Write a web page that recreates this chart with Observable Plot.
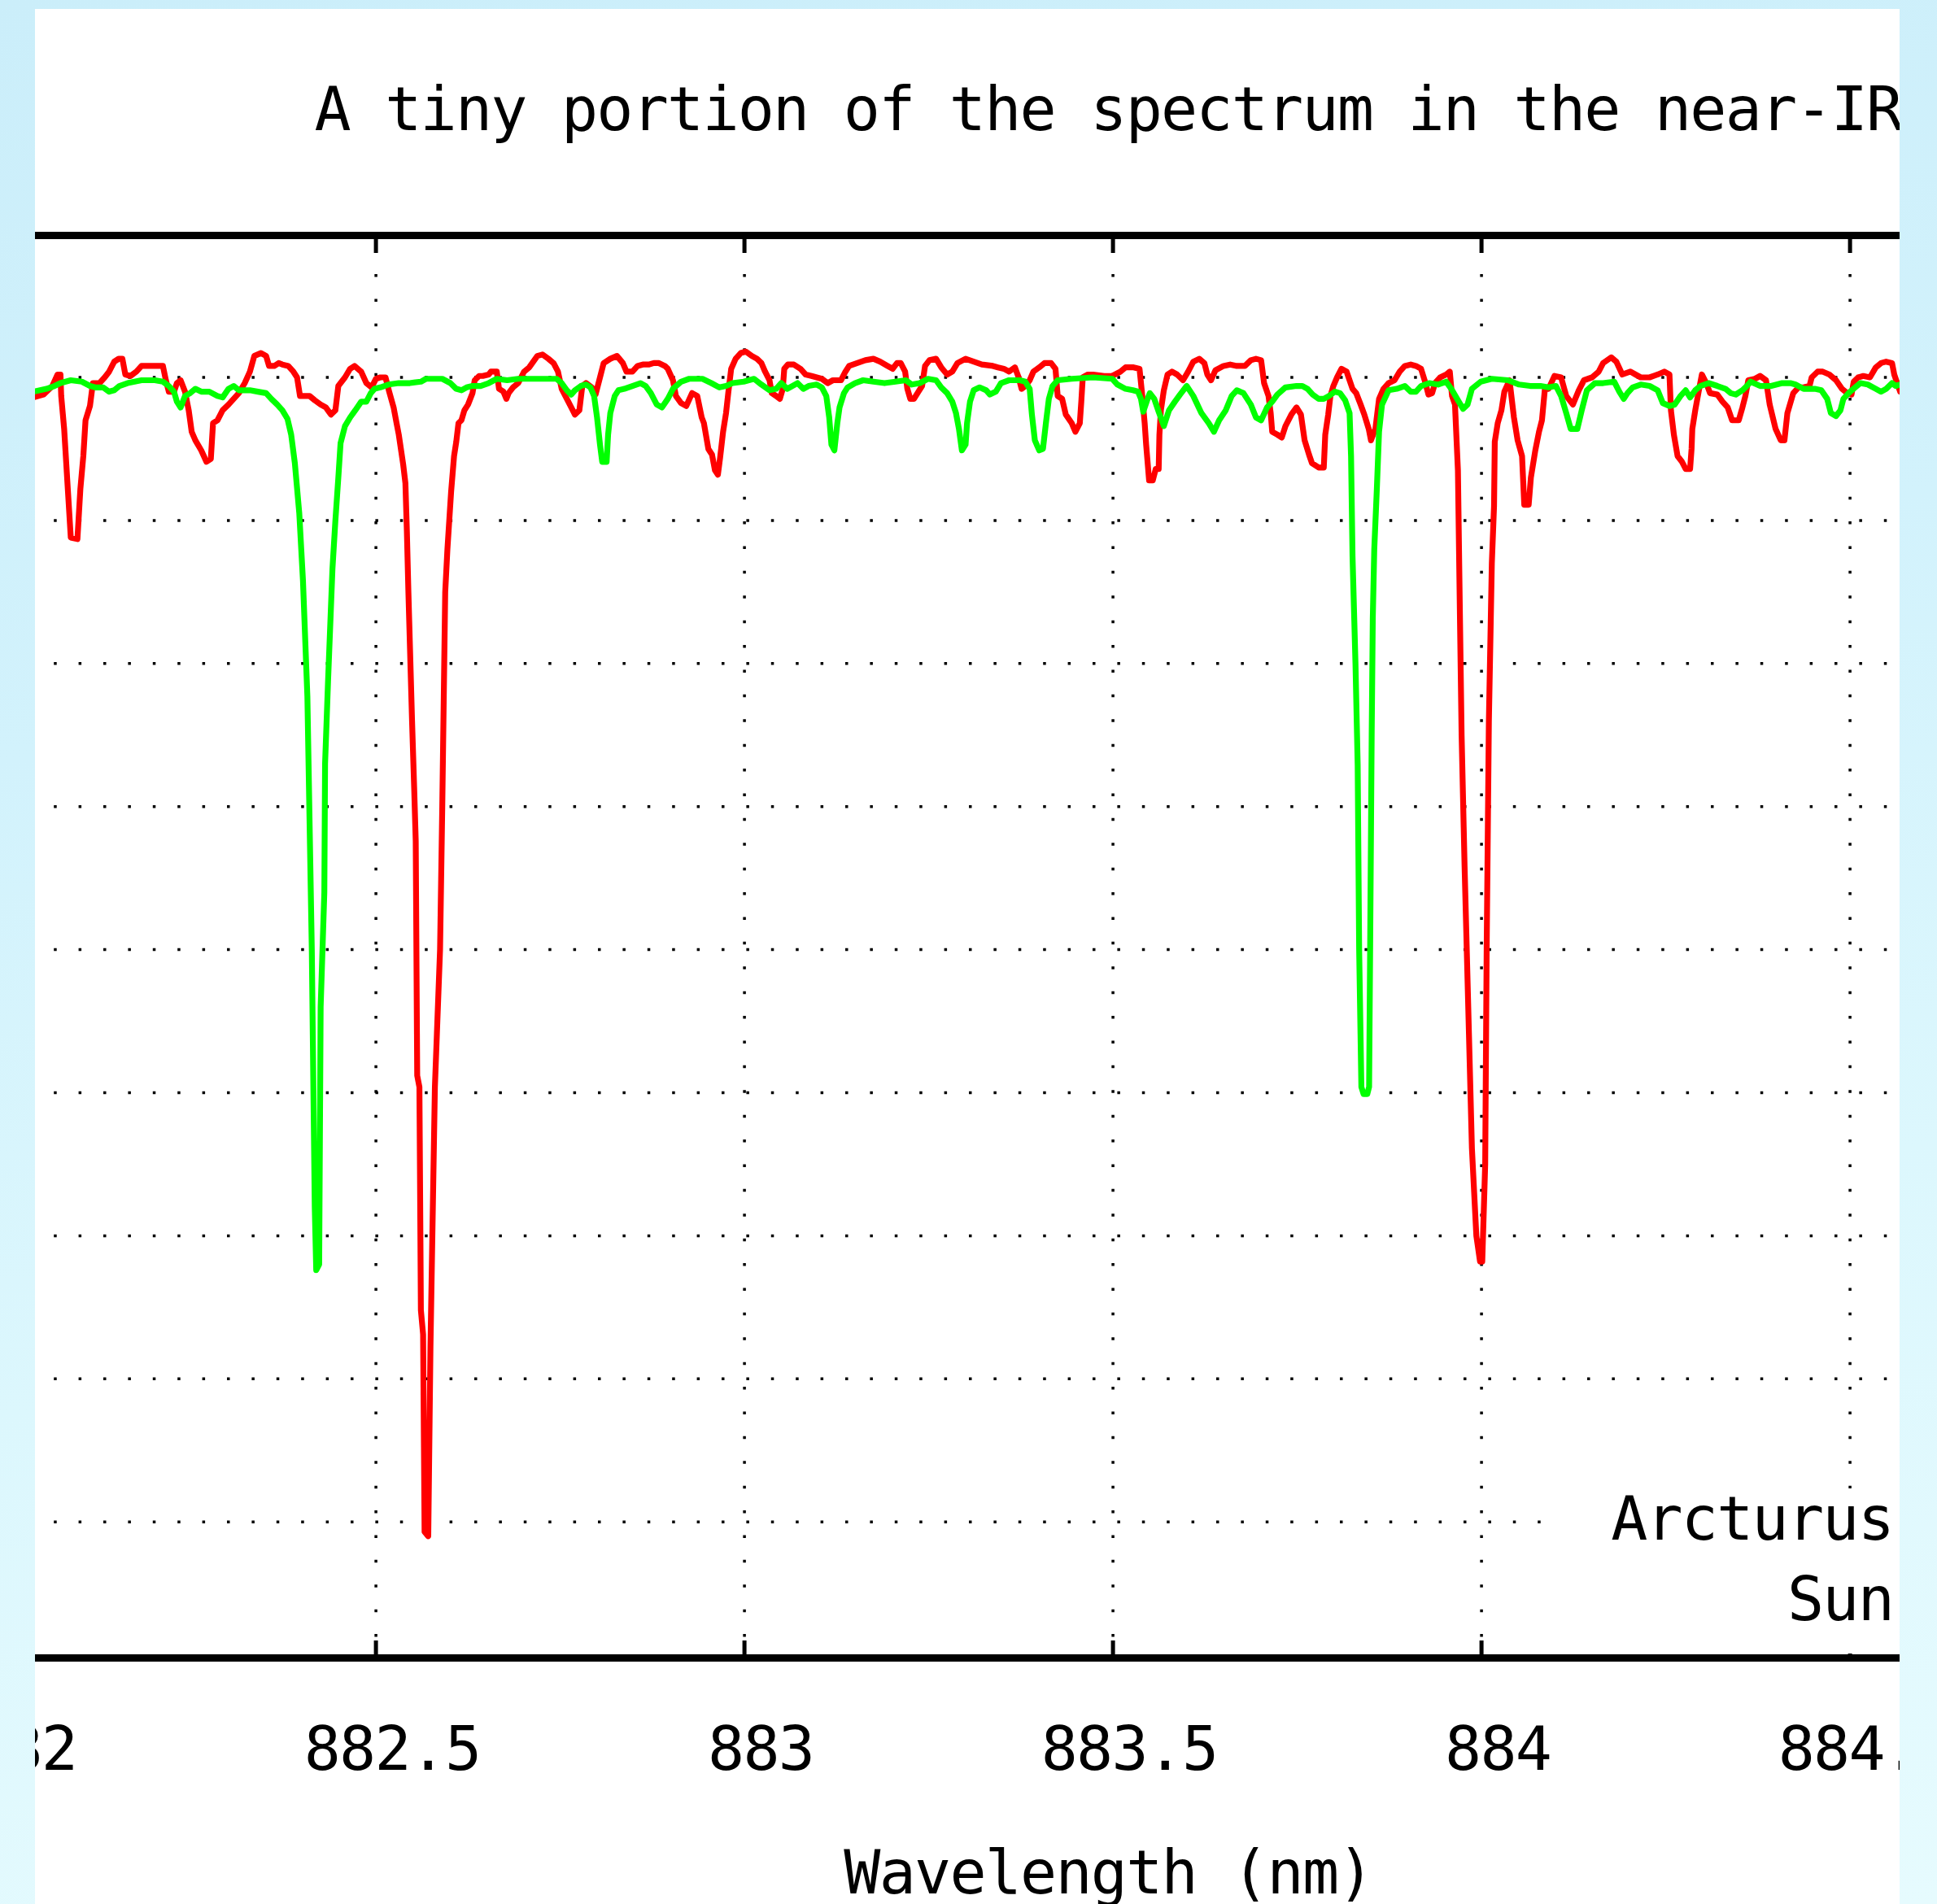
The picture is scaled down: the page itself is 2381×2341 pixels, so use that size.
<!DOCTYPE html>
<html><head><meta charset="utf-8">
<script src="https://cdn.jsdelivr.net/npm/d3@7"></script>
<script src="https://cdn.jsdelivr.net/npm/@observablehq/plot@0.6"></script>
<style>
html,body{margin:0;padding:0}
body{width:2381px;height:2341px;position:relative;overflow:hidden;
 background:linear-gradient(172deg,#cbeefa 0%,#d2f2fc 35%,#dcf7fd 65%,#e6fbfe 100%);}
#panel{position:absolute;left:43px;top:11px;width:2292px;height:2330px;overflow:hidden;background:#fff}
#chart{position:absolute;left:-43px;top:-11px;width:2381px;height:2341px}
#chart svg{max-width:none !important;width:2381px !important;height:2341px !important}
#chart svg text,#legend text{font-family:"DejaVu Sans Mono",monospace;font-size:75px;letter-spacing:-1.8px;fill:#000}
#legend{position:absolute;left:1862px;top:1819px}
</style></head><body>
<div id="panel"><div id="chart"></div><svg id="legend" width="430" height="203"></svg></div>
<script>
const titleText = "A tiny portion of the spectrum in the near-IR";
const xLabelText = "Wavelength (nm)";
const seriesNames = ["Arcturus", "Sun"];
const seriesColors = ["#ff0000", "#00ff00"];
const xDomain = [882, 884.6];
const yDomain = [0.1049, 1.0992];
const xTicks = [882, 882.5, 883, 883.5, 884, 884.5];
const yGrid = [0.2, 0.3, 0.4, 0.5, 0.6, 0.7, 0.8, 0.9, 1.0];

// [wavelength (nm), normalized flux]
const arcturus = [
[882.035,0.986],[882.049,0.988],[882.061,0.994],[882.068,1.002],[882.072,1.002],[882.073,0.987],[882.077,0.964],[882.081,0.930],[882.086,0.888],[882.095,0.887],[882.099,0.922],[882.103,0.945],[882.106,0.970],[882.112,0.980],[882.116,0.996],[882.125,0.996],[882.132,1.000],[882.138,1.004],[882.145,1.011],[882.151,1.013],[882.156,1.013],[882.160,1.002],[882.167,1.001],[882.175,1.004],[882.182,1.008],[882.193,1.008],[882.211,1.008],[882.215,0.998],[882.219,0.990],[882.226,0.990],[882.230,0.996],[882.235,0.998],[882.241,0.990],[882.246,0.977],[882.250,0.962],[882.255,0.956],[882.263,0.949],[882.270,0.941],[882.276,0.943],[882.279,0.968],[882.285,0.970],[882.292,0.977],[882.300,0.981],[882.307,0.985],[882.314,0.989],[882.322,0.996],[882.329,1.004],[882.335,1.015],[882.344,1.017],[882.351,1.015],[882.355,1.008],[882.362,1.008],[882.368,1.010],[882.373,1.009],[882.381,1.008],[882.388,1.004],[882.393,1.000],[882.397,0.987],[882.410,0.987],[882.417,0.984],[882.425,0.981],[882.432,0.979],[882.439,0.974],[882.445,0.977],[882.449,0.994],[882.458,1.000],[882.465,1.006],[882.471,1.008],[882.480,1.004],[882.487,0.996],[882.494,0.993],[882.500,0.999],[882.506,1.000],[882.513,1.000],[882.518,0.990],[882.524,0.979],[882.528,0.968],[882.531,0.960],[882.537,0.939],[882.540,0.926],[882.542,0.892],[882.544,0.851],[882.549,0.760],[882.552,0.711],[882.554,0.676],[882.556,0.512],[882.559,0.504],[882.561,0.348],[882.564,0.331],[882.566,0.193],[882.571,0.190],[882.574,0.323],[882.580,0.504],[882.587,0.600],[882.590,0.700],[882.594,0.850],[882.597,0.880],[882.602,0.920],[882.606,0.945],[882.609,0.955],[882.612,0.968],[882.616,0.970],[882.620,0.977],[882.625,0.981],[882.631,0.989],[882.634,0.998],[882.640,1.001],[882.645,1.001],[882.653,1.002],[882.656,1.004],[882.664,1.004],[882.667,0.992],[882.673,0.990],[882.677,0.985],[882.680,0.989],[882.686,0.993],[882.693,0.996],[882.701,1.004],[882.708,1.007],[882.719,1.015],[882.726,1.016],[882.734,1.013],[882.741,1.010],[882.747,1.004],[882.752,0.992],[882.759,0.985],[882.765,0.979],[882.770,0.974],[882.776,0.977],[882.780,0.994],[882.785,0.996],[882.793,0.993],[882.798,0.988],[882.804,1.000],[882.809,1.010],[882.818,1.013],[882.827,1.015],[882.835,1.010],[882.840,1.004],[882.848,1.004],[882.855,1.008],[882.862,1.009],[882.870,1.009],[882.877,1.010],[882.884,1.010],[882.892,1.008],[882.896,1.006],[882.903,0.998],[882.907,0.987],[882.914,0.982],[882.921,0.980],[882.929,0.989],[882.936,0.987],[882.942,0.972],[882.945,0.968],[882.951,0.950],[882.956,0.946],[882.960,0.935],[882.964,0.932],[882.967,0.944],[882.971,0.962],[882.975,0.975],[882.978,0.989],[882.982,1.006],[882.988,1.013],[882.995,1.017],[883.002,1.018],[883.010,1.015],[883.017,1.013],[883.023,1.010],[883.028,1.004],[883.034,0.998],[883.037,0.989],[883.043,0.987],[883.048,0.985],[883.052,0.992],[883.054,1.006],[883.059,1.009],[883.067,1.009],[883.076,1.006],[883.083,1.002],[883.091,1.001],[883.098,1.000],[883.105,0.999],[883.113,0.996],[883.120,0.998],[883.131,0.998],[883.137,1.004],[883.142,1.008],[883.153,1.010],[883.164,1.012],[883.175,1.013],[883.184,1.011],[883.194,1.008],[883.201,1.006],[883.207,1.010],[883.212,1.010],[883.218,1.004],[883.221,0.992],[883.225,0.985],[883.230,0.985],[883.236,0.990],[883.241,0.994],[883.245,1.008],[883.251,1.012],[883.260,1.013],[883.267,1.007],[883.275,1.002],[883.282,1.004],[883.289,1.010],[883.300,1.013],[883.311,1.011],[883.322,1.009],[883.337,1.008],[883.344,1.007],[883.352,1.006],[883.359,1.004],[883.367,1.007],[883.372,1.000],[883.376,0.992],[883.381,0.994],[883.387,0.998],[883.392,1.004],[883.400,1.007],[883.407,1.010],[883.416,1.010],[883.422,1.006],[883.425,0.987],[883.431,0.985],[883.436,0.974],[883.444,0.968],[883.449,0.962],[883.455,0.968],[883.457,0.983],[883.459,1.000],[883.466,1.002],[883.473,1.002],[883.488,1.001],[883.499,1.001],[883.510,1.004],[883.517,1.007],[883.528,1.007],[883.536,1.006],[883.539,0.991],[883.543,0.968],[883.545,0.953],[883.549,0.928],[883.554,0.928],[883.558,0.936],[883.562,0.936],[883.563,0.960],[883.565,0.977],[883.569,0.991],[883.574,1.002],[883.580,1.004],[883.587,1.002],[883.595,0.998],[883.602,1.004],[883.609,1.011],[883.617,1.013],[883.624,1.010],[883.628,1.002],[883.633,0.998],[883.639,1.005],[883.650,1.008],[883.659,1.009],[883.668,1.008],[883.679,1.008],[883.687,1.012],[883.694,1.013],[883.701,1.012],[883.705,0.996],[883.711,0.987],[883.714,0.975],[883.716,0.962],[883.723,0.960],[883.729,0.958],[883.734,0.966],[883.742,0.974],[883.749,0.979],[883.755,0.974],[883.760,0.956],[883.766,0.946],[883.770,0.940],[883.779,0.937],[883.786,0.937],[883.788,0.960],[883.792,0.974],[883.795,0.987],[883.799,0.994],[883.804,1.000],[883.810,1.006],[883.817,1.004],[883.825,0.992],[883.830,0.989],[883.836,0.981],[883.841,0.974],[883.847,0.964],[883.850,0.956],[883.856,0.964],[883.861,0.985],[883.867,0.992],[883.874,0.996],[883.882,0.998],[883.889,1.004],[883.896,1.008],[883.904,1.009],[883.911,1.008],[883.918,1.006],[883.924,0.996],[883.928,0.988],[883.933,0.989],[883.937,0.996],[883.944,1.000],[883.952,1.002],[883.957,1.004],[883.960,0.987],[883.964,0.981],[883.966,0.958],[883.968,0.935],[883.970,0.860],[883.973,0.750],[883.977,0.659],[883.982,0.560],[883.987,0.461],[883.993,0.400],[883.998,0.382],[884.001,0.382],[884.005,0.450],[884.007,0.600],[884.010,0.760],[884.014,0.870],[884.017,0.910],[884.018,0.955],[884.022,0.968],[884.027,0.977],[884.031,0.990],[884.038,0.998],[884.044,0.972],[884.049,0.956],[884.055,0.945],[884.058,0.911],[884.064,0.911],[884.067,0.930],[884.073,0.949],[884.078,0.962],[884.082,0.970],[884.086,0.992],[884.091,0.992],[884.099,1.001],[884.108,1.000],[884.115,0.987],[884.124,0.981],[884.132,0.991],[884.139,0.998],[884.150,1.000],[884.159,1.004],[884.165,1.010],[884.176,1.014],[884.183,1.011],[884.191,1.002],[884.202,1.004],[884.209,1.002],[884.216,1.000],[884.228,1.000],[884.239,1.002],[884.248,1.004],[884.255,1.002],[884.257,0.977],[884.261,0.960],[884.266,0.945],[884.272,0.941],[884.277,0.936],[884.283,0.936],[884.285,0.950],[884.286,0.964],[884.290,0.977],[884.296,0.994],[884.299,1.002],[884.305,0.996],[884.310,0.989],[884.320,0.988],[884.327,0.983],[884.334,0.979],[884.340,0.970],[884.349,0.970],[884.354,0.979],[884.358,0.987],[884.362,0.998],[884.371,0.999],[884.378,1.001],[884.386,0.998],[884.391,0.981],[884.399,0.964],[884.406,0.956],[884.411,0.956],[884.415,0.975],[884.423,0.989],[884.430,0.993],[884.437,0.993],[884.445,0.994],[884.448,1.000],[884.456,1.004],[884.463,1.004],[884.472,1.002],[884.481,0.998],[884.489,0.992],[884.496,0.989],[884.502,0.988],[884.505,0.997],[884.511,1.000],[884.518,1.001],[884.527,1.000],[884.535,1.007],[884.542,1.010],[884.549,1.011],[884.557,1.010],[884.560,1.002],[884.564,0.996],[884.568,0.990],[884.575,0.988]
];

const sun = [
[882.035,0.990],[882.053,0.992],[882.064,0.994],[882.072,0.996],[882.086,0.998],[882.101,0.997],[882.112,0.994],[882.119,0.993],[882.130,0.993],[882.138,0.990],[882.145,0.991],[882.152,0.994],[882.163,0.996],[882.182,0.998],[882.200,0.998],[882.211,0.997],[882.219,0.994],[882.226,0.990],[882.230,0.983],[882.235,0.979],[882.241,0.987],[882.248,0.989],[882.255,0.992],[882.263,0.990],[882.274,0.990],[882.285,0.987],[882.292,0.986],[882.300,0.992],[882.307,0.994],[882.314,0.991],[882.329,0.991],[882.340,0.990],[882.351,0.989],[882.358,0.985],[882.366,0.981],[882.373,0.977],[882.380,0.971],[882.385,0.960],[882.390,0.940],[882.396,0.905],[882.401,0.858],[882.407,0.777],[882.413,0.600],[882.417,0.420],[882.419,0.376],[882.423,0.380],[882.425,0.560],[882.430,0.640],[882.431,0.730],[882.435,0.787],[882.441,0.866],[882.445,0.900],[882.449,0.930],[882.452,0.954],[882.458,0.966],[882.465,0.972],[882.472,0.977],[882.480,0.983],[882.487,0.983],[882.493,0.989],[882.498,0.992],[882.506,0.993],[882.517,0.995],[882.531,0.996],[882.546,0.996],[882.561,0.997],[882.568,0.999],[882.590,0.999],[882.601,0.996],[882.609,0.992],[882.616,0.991],[882.623,0.993],[882.631,0.994],[882.642,0.994],[882.653,0.996],[882.664,0.999],[882.678,0.998],[882.693,0.999],[882.715,0.999],[882.745,0.999],[882.752,0.996],[882.759,0.991],[882.765,0.988],[882.770,0.991],[882.778,0.994],[882.785,0.995],[882.791,0.993],[882.796,0.987],[882.800,0.972],[882.804,0.953],[882.807,0.941],[882.813,0.941],[882.815,0.960],[882.818,0.975],[882.824,0.987],[882.829,0.991],[882.837,0.992],[882.848,0.994],[882.859,0.996],[882.866,0.994],[882.873,0.989],[882.881,0.981],[882.888,0.979],[882.896,0.985],[882.903,0.992],[882.914,0.997],[882.925,0.999],[882.943,0.999],[882.955,0.996],[882.966,0.993],[882.975,0.994],[882.984,0.996],[882.999,0.997],[883.013,0.999],[883.023,0.995],[883.034,0.991],[883.043,0.992],[883.050,0.996],[883.058,0.992],[883.065,0.994],[883.072,0.996],[883.080,0.992],[883.087,0.994],[883.098,0.995],[883.105,0.993],[883.111,0.987],[883.115,0.972],[883.118,0.953],[883.122,0.949],[883.126,0.968],[883.129,0.979],[883.135,0.989],[883.140,0.993],[883.150,0.996],[883.161,0.998],[883.175,0.997],[883.190,0.996],[883.205,0.997],[883.219,0.998],[883.227,0.995],[883.238,0.996],[883.249,0.999],[883.260,0.998],[883.267,0.993],[883.275,0.989],[883.282,0.983],[883.287,0.975],[883.291,0.964],[883.295,0.949],[883.300,0.953],[883.302,0.968],[883.306,0.983],[883.311,0.991],[883.319,0.993],[883.328,0.991],[883.333,0.988],[883.341,0.990],[883.348,0.996],[883.359,0.998],[883.374,0.998],[883.381,0.997],[883.387,0.992],[883.390,0.974],[883.394,0.956],[883.400,0.949],[883.405,0.950],[883.409,0.968],[883.413,0.985],[883.418,0.994],[883.425,0.998],[883.444,0.999],[883.473,1.000],[883.499,0.999],[883.506,0.995],[883.517,0.992],[883.527,0.991],[883.534,0.990],[883.538,0.985],[883.541,0.976],[883.547,0.985],[883.550,0.989],[883.556,0.985],[883.562,0.976],[883.569,0.966],[883.576,0.977],[883.584,0.983],[883.591,0.988],[883.600,0.994],[883.609,0.987],[883.620,0.975],[883.630,0.968],[883.637,0.962],[883.644,0.970],[883.653,0.977],[883.661,0.987],[883.668,0.991],[883.677,0.989],[883.687,0.981],[883.694,0.972],[883.701,0.970],[883.709,0.979],[883.716,0.983],[883.723,0.988],[883.734,0.993],[883.749,0.994],[883.757,0.994],[883.764,0.992],[883.771,0.988],[883.779,0.985],[883.786,0.985],[883.793,0.987],[883.801,0.990],[883.808,0.989],[883.815,0.984],[883.821,0.975],[883.823,0.945],[883.825,0.875],[883.829,0.800],[883.832,0.729],[883.834,0.600],[883.837,0.504],[883.840,0.499],[883.845,0.499],[883.8475,0.504],[883.849,0.607],[883.851,0.750],[883.8525,0.832],[883.8545,0.880],[883.858,0.922],[883.861,0.962],[883.865,0.981],[883.874,0.991],[883.885,0.992],[883.896,0.994],[883.904,0.990],[883.911,0.990],[883.918,0.994],[883.929,0.996],[883.941,0.995],[883.952,0.997],[883.959,0.992],[883.968,0.984],[883.975,0.978],[883.981,0.981],[883.987,0.992],[883.999,0.997],[884.014,0.999],[884.036,0.998],[884.051,0.995],[884.066,0.994],[884.080,0.994],[884.091,0.993],[884.101,0.994],[884.108,0.987],[884.115,0.975],[884.121,0.964],[884.130,0.964],[884.136,0.977],[884.143,0.991],[884.154,0.996],[884.165,0.996],[884.180,0.997],[884.187,0.990],[884.193,0.985],[884.198,0.989],[884.205,0.993],[884.216,0.995],[884.228,0.994],[884.239,0.991],[884.246,0.982],[884.255,0.980],[884.262,0.981],[884.270,0.987],[884.277,0.991],[884.283,0.986],[884.290,0.991],[884.297,0.994],[884.308,0.996],[884.320,0.994],[884.331,0.992],[884.338,0.989],[884.345,0.988],[884.354,0.991],[884.360,0.994],[884.365,0.997],[884.378,0.994],[884.393,0.994],[884.408,0.996],[884.419,0.996],[884.426,0.995],[884.437,0.992],[884.452,0.992],[884.461,0.991],[884.469,0.985],[884.474,0.975],[884.481,0.973],[884.487,0.977],[884.491,0.985],[884.498,0.989],[884.507,0.993],[884.514,0.996],[884.524,0.995],[884.535,0.992],[884.542,0.990],[884.549,0.992],[884.557,0.996],[884.562,0.994],[884.568,0.995],[884.575,0.995]
];

const toRows = (pairs) => pairs.map(([w, f]) => ({w, f}));

const chart = Plot.plot({
  width: 2381,
  height: 2341,
  marginLeft: 8.6,
  marginRight: 16.8,
  marginTop: 289,
  marginBottom: 303,
  x: {domain: xDomain},
  y: {domain: yDomain, axis: null},
  marks: [
    Plot.ruleY(yGrid, {y: d => d, stroke: "#000", strokeWidth: 3.5, strokeDasharray: "3.5,26.9", strokeDashoffset: 3.2}),
    Plot.ruleX(xTicks, {x: d => d, stroke: "#000", strokeWidth: 3.5, strokeDasharray: "3.5,26.9", strokeDashoffset: 12.75}),
    Plot.line(toRows(arcturus), {x: "w", y: "f", stroke: seriesColors[0], strokeWidth: 7.2}),
    Plot.line(toRows(sun), {x: "w", y: "f", stroke: seriesColors[1], strokeWidth: 7.2}),
    Plot.frame({stroke: "#000", strokeWidth: 9}),
    Plot.axisX(xTicks, {anchor: "top", tickSize: 21, dy: 21, stroke: "#000", strokeWidth: 5, fill: "none"}),
    Plot.axisX(xTicks, {anchor: "bottom", tickSize: 21, dy: -21, stroke: "#000", strokeWidth: 5, fill: "none"}),
    Plot.axisX(xTicks, {anchor: "bottom", tickSize: 0, tickPadding: 84, dx: 20, tickFormat: d => String(d), label: null, fill: "#000"}),
    Plot.text([titleText], {text: d => d, frameAnchor: "top-left", textAnchor: "start", lineAnchor: "bottom", dx: 377.4, dy: -130}),
    Plot.text([xLabelText], {text: d => d, frameAnchor: "bottom", lineAnchor: "bottom", dx: 175.6, dy: 289})
  ]
});
document.getElementById("chart").appendChild(chart);

const leg = d3.select("#legend");
leg.append("rect").attr("width", 430).attr("height", 203).attr("fill", "#fff");
leg.selectAll("text").data(seriesNames).join("text")
  .attr("x", 422).attr("y", (d, i) => 63 + i * 99)
  .attr("text-anchor", "end").text(d => d);
</script>
</body></html>
